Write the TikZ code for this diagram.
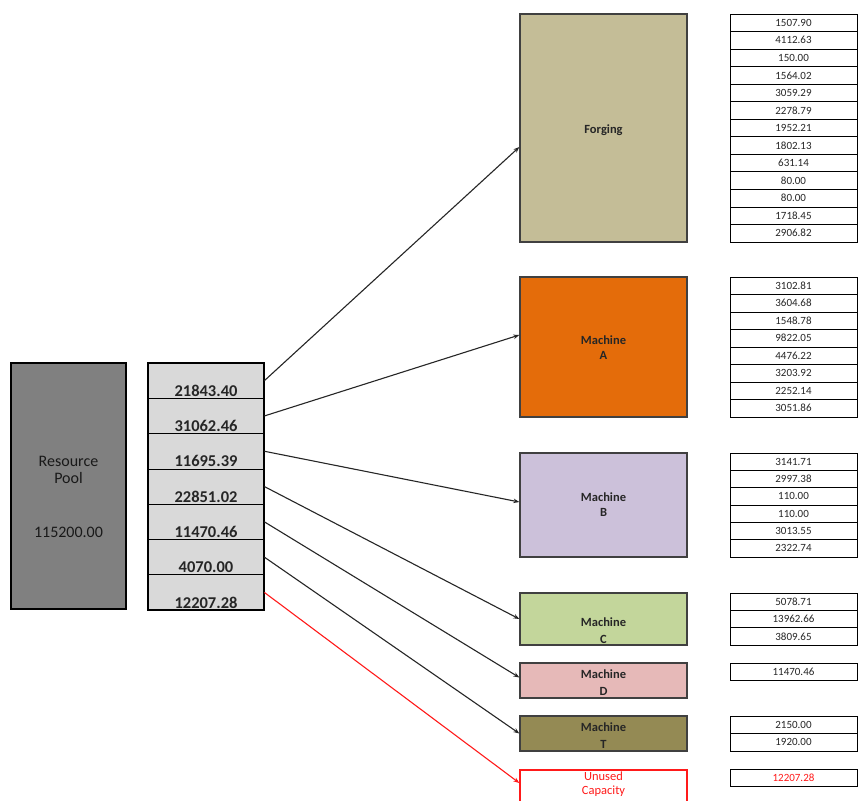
\documentclass[tikz,border=0pt]{standalone}
\usepackage{fontspec}
\setmainfont{Carlito}
\usepackage{xcolor}
\usetikzlibrary{arrows.meta,positioning,calc}

\definecolor{poolgray}{HTML}{808080}
\definecolor{sharegray}{HTML}{D9D9D9}
\definecolor{forgingtan}{HTML}{C4BD97}
\definecolor{machorange}{HTML}{E46C0A}
\definecolor{machlilac}{HTML}{CCC1DA}
\definecolor{machgreen}{HTML}{C3D69B}
\definecolor{machpink}{HTML}{E6B9B8}
\definecolor{macholive}{HTML}{948A54}
\definecolor{unusedred}{HTML}{FF1A1A}

\begin{document}
\begin{tikzpicture}[x=1pt,y=-1pt,>={Stealth[length=6pt,width=4.5pt]},
  machbox/.style={draw=black!75,line width=1.3pt,minimum width=167pt,inner sep=0pt},
  machlabel/.style={align=center,inner sep=0pt,text=black!85,font=\bfseries\fontsize{12.5}{15}\selectfont},
  cell/.style={draw,line width=0.8pt,minimum width=127pt,inner sep=0pt,text=black!85,font=\fontsize{11}{12}\selectfont},
  sharecell/.style={draw,line width=0.8pt,fill=sharegray,minimum width=116pt,minimum height=35.3pt,inner sep=0pt},
  sharenum/.style={inner sep=0pt,text=black!85,font=\bfseries\fontsize{16.5}{18}\selectfont},
  flow/.style={->,line width=1.1pt,black!85}]
  \clip (0,0) rectangle (858,800);
  \fill[white] (0,0) rectangle (858,800);

  \node[draw,line width=2.5pt,fill=poolgray,minimum width=115pt,minimum height=246pt] (pool) at (68.5,486) {};
  \node[align=center,text=black!90,font=\fontsize{16}{17}\selectfont] (pooltitle) at (68.5,470) {Resource\\Pool};
  \node[text=black!90,font=\fontsize{16}{17}\selectfont] (poolvalue) at (68.5,532) {115200.00};

  \foreach \v [count=\i] in {21843.40,31062.46,11695.39,22851.02,11470.46,4070.00,12207.28} {
    \node[sharecell] (s\i) at (206,{363+(\i-0.5)*35.3}) {};
    \node[sharenum] (n\i) at ([yshift=8pt]s\i.south) {\v};
  }
  \node[draw,line width=2.5pt,minimum width=116pt,minimum height=247pt] (shares) at (206,486.5) {};

  \node[machbox,fill=forgingtan,minimum height=228pt] (forging) at (603.5,128) {};
  \node[machbox,fill=machorange,minimum height=140pt] (macha) at (603.5,347) {};
  \node[machbox,fill=machlilac,minimum height=104pt] (machb) at (603.5,505) {};
  \node[machbox,fill=machgreen,minimum height=52pt] (machc) at (603.5,619) {};
  \node[machbox,fill=machpink,minimum height=35pt] (machd) at (603.5,680.5) {};
  \node[machbox,fill=macholive,minimum height=35pt] (macht) at (603.5,733.5) {};
  \node[machbox,draw=unusedred,fill=white,minimum height=40pt] (unused) at (603.5,790) {};

  \node[machlabel] (forginglabel) at (603.5,130) {Forging};
  \node[machlabel] (machalabel) at (603.5,348) {Machine\\A};
  \node[machlabel] (machblabel) at (603.5,505) {Machine\\B};
  \node[machlabel,font=\bfseries\fontsize{12.5}{17}\selectfont] (machclabel) at (603.5,631) {Machine\\C};
  \node[machlabel,font=\bfseries\fontsize{12.5}{17}\selectfont] (machdlabel) at (603.5,683) {Machine\\D};
  \node[machlabel,font=\bfseries\fontsize{12.5}{17}\selectfont] (machtlabel) at (603.5,736) {Machine\\T};
  \node[machlabel,text=unusedred,font=\fontsize{12.5}{14.5}\selectfont] (unusedlabel) at (603.5,784) {Unused\\Capacity};

  \draw[flow] (s1.east) -- ([yshift=-19pt]forging.west);
  \draw[flow] (s2.east) -- ([yshift=12pt]macha.west);
  \draw[flow] (s3.east) -- ([yshift=3pt]machb.west);
  \draw[flow] (s4.east) -- (machc.west);
  \draw[flow] (s5.east) -- ([yshift=3pt]machd.west);
  \draw[flow] (s6.east) -- (macht.west);
  \draw[flow,unusedred] (s7.east) -- ([yshift=7pt]unused.west);

  \foreach \v [count=\i] in {1507.90,4112.63,150.00,1564.02,3059.29,2278.79,1952.21,1802.13,631.14,80.00,80.00,1718.45,2906.82}
    \node[cell,minimum height=17.54pt] (f\i) at (793.5,{14+(\i-0.5)*17.54}) {\v};
  \foreach \v [count=\i] in {3102.81,3604.68,1548.78,9822.05,4476.22,3203.92,2252.14,3051.86}
    \node[cell,minimum height=17.5pt] (a\i) at (793.5,{277+(\i-0.5)*17.5}) {\v};
  \foreach \v [count=\i] in {3141.71,2997.38,110.00,110.00,3013.55,2322.74}
    \node[cell,minimum height=17.33pt] (b\i) at (793.5,{453+(\i-0.5)*17.33}) {\v};
  \foreach \v [count=\i] in {5078.71,13962.66,3809.65}
    \node[cell,minimum height=17.33pt] (c\i) at (793.5,{593+(\i-0.5)*17.33}) {\v};
  \node[cell,minimum height=17pt] (d1) at (793.5,671.5) {11470.46};
  \foreach \v [count=\i] in {2150.00,1920.00}
    \node[cell,minimum height=17.5pt] (t\i) at (793.5,{716+(\i-0.5)*17.5}) {\v};
  \node[cell,minimum height=17pt,text=unusedred] (u1) at (793.5,777.5) {12207.28};
\end{tikzpicture}
\end{document}
